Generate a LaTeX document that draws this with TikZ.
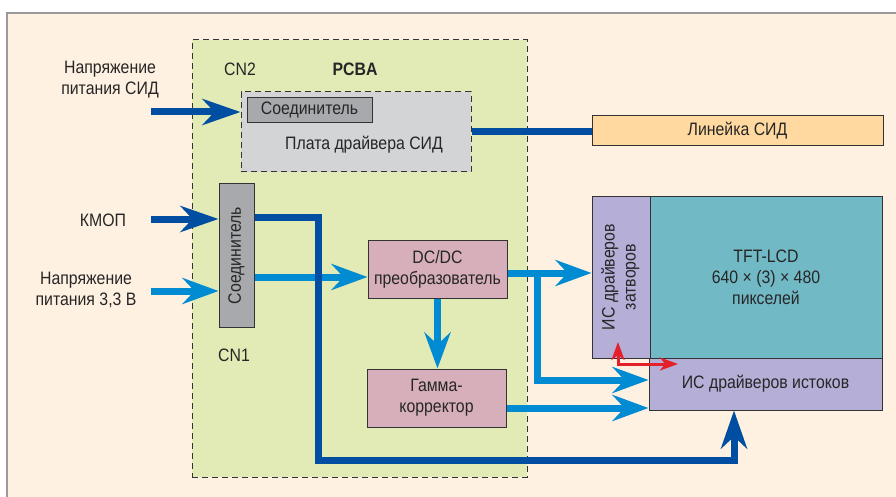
\documentclass[tikz,border=0pt]{standalone}
\usepackage{fontspec}
\setmainfont[FakeStretch=0.88]{Liberation Sans}
\usetikzlibrary{arrows.meta}

\definecolor{kremovyj}{HTML}{FEF1E2}
\definecolor{salatovyj}{HTML}{E2EBB6}
\definecolor{seryj}{HTML}{D3D4D6}
\definecolor{razjem}{HTML}{A7A9AC}
\definecolor{oranzhevyj}{HTML}{FFD9A0}
\definecolor{rozovyj}{HTML}{D6AFBA}
\definecolor{sirenevyj}{HTML}{B5AFD8}
\definecolor{biruzovyj}{HTML}{72B9C6}
\definecolor{temnosinij}{HTML}{004EA2}
\definecolor{goluboj}{HTML}{008BD2}
\definecolor{krasnyj}{HTML}{E4202B}
\definecolor{ramka}{HTML}{9A9A9A}

\begin{document}
\begin{tikzpicture}[x=1pt,y=-1pt,font=\fontsize{18}{21}\selectfont]
				\tikzstyle{every node}=[text=black!85,inner sep=0pt,align=center]
				\tikzstyle{blok}=[draw=black!80,line width=1pt]
				\tikzstyle{punktir}=[draw=black!80,line width=1pt,dash pattern=on 6pt off 4pt]
				\tikzstyle{temnaja}=[draw=temnosinij,line width=7pt,
				-{Stealth[length=38pt,width=26pt,inset=12pt]}]
				\tikzstyle{svetlaja}=[draw=goluboj,line width=7pt,
				-{Stealth[length=36pt,width=26pt,inset=12pt]}]
				\tikzstyle{krasnaja}=[draw=krasnyj,line width=3pt,
				{Stealth[length=18pt,width=13pt,inset=5pt]}-{Stealth[length=18pt,width=13pt,inset=5pt]}]
				\useasboundingbox (0,0) rectangle (896,497);
				% fon i ramka
				\fill[kremovyj] (7,13) rectangle (896,497);
				\draw[ramka,line width=2pt] (7,497) -- (7,13) -- (896,13);
				% PCBA
				\node[punktir,fill=salatovyj,minimum width=335,minimum height=437] (pcba) at (359.5,258.5) {};
				\node (cn2) at (240,69) {CN2};
				\node[font=\fontsize{18}{21}\selectfont\bfseries] (pcbaname) at (355,69) {PCBA};
				\node (cn1) at (234,355) {CN1};
				% bloki
				\node[punktir,fill=seryj,minimum width=230,minimum height=80] (ledplata) at (356,132) {};
				\node[blok,fill=razjem,minimum width=125,minimum height=25] (soed2) at (309.5,110.5) {Соединитель};
				\node (ledplataname) at (364,145) {Плата драйвера СИД};
				\node[blok,fill=oranzhevyj,minimum width=291,minimum height=30] (linejka) at (737.5,131) {Линейка СИД};
				\node[blok,fill=razjem,minimum width=35,minimum height=143] (soed1) at (236.5,255.5) {\rotatebox{90}{Соединитель}};
				\node[blok,fill=rozovyj,minimum width=139,minimum height=58] (dcdc) at (437.5,269) {DC/DC\\преобразователь};
				\node[blok,fill=rozovyj,minimum width=139,minimum height=58] (gamma) at (436.5,398) {Гамма-\\корректор};
				\node[blok,fill=sirenevyj,minimum width=58,minimum height=162] (zatvor) at (621,277)
				{\rotatebox{90}{\begin{tabular}{@{}c@{}}ИС драйверов\\затворов\end{tabular}}};
				\node[blok,fill=biruzovyj,minimum width=232,minimum height=162] (tft) at (766,277) {TFT-LCD\\640 × (3) × 480\\пикселей};
				\node[blok,fill=sirenevyj,minimum width=233,minimum height=52] (istok) at (765.5,384) {ИС драйверов истоков};
				% vhody
				\node (pitled) at (110,80) {Напряжение\\питания СИД};
				\node (kmop) at (103,220) {КМОП};
				\node (pit33) at (86,290) {Напряжение\\питания 3,3 В};
				\coordinate (inled) at (151,112);
				\coordinate (inkmop) at (151,219);
				\coordinate (inpit) at (151,291);
				% svjazi
				\coordinate (s1) at ([yshift=-21.5pt]soed1.east);
				\coordinate (d1) at ([yshift=-4pt]dcdc.east);
				\coordinate (g1) at ([yshift=-10pt]gamma.east);
				\coordinate (vetka) at (537,380);
				\coordinate (k0) at ([yshift=38.5pt]soed1.east);
				\coordinate (k1) at (318,460);
				\coordinate (k2) at (734,460);
				\coordinate (r1) at (618,342);
				\coordinate (r2) at (678,364);
				\draw[svetlaja] (inpit) -- (inpit -| soed1.west);
				\draw[svetlaja] (s1) -- (s1 -| dcdc.west);
				\draw[svetlaja] (dcdc.south) -- (dcdc.south |- gamma.north);
				\draw[svetlaja] (d1) -- (d1 -| zatvor.west);
				\draw[svetlaja] (vetka |- d1) -- (vetka) -- (vetka -| istok.west);
				\draw[svetlaja] (g1) -- (g1 -| istok.west);
				\draw[temnaja] (inled) -- (inled -| ledplata.west);
				\draw[temnaja] (inkmop) -- (inkmop -| soed1.west);
				\draw[temnaja,-] (ledplata.east) -- (ledplata.east -| linejka.west);
				\draw[temnaja] (k0) -| (k1) -- (k2) -- (k2 |- istok.south);
				\draw[krasnaja] (r1) |- (r2);
\end{tikzpicture}
\end{document}
